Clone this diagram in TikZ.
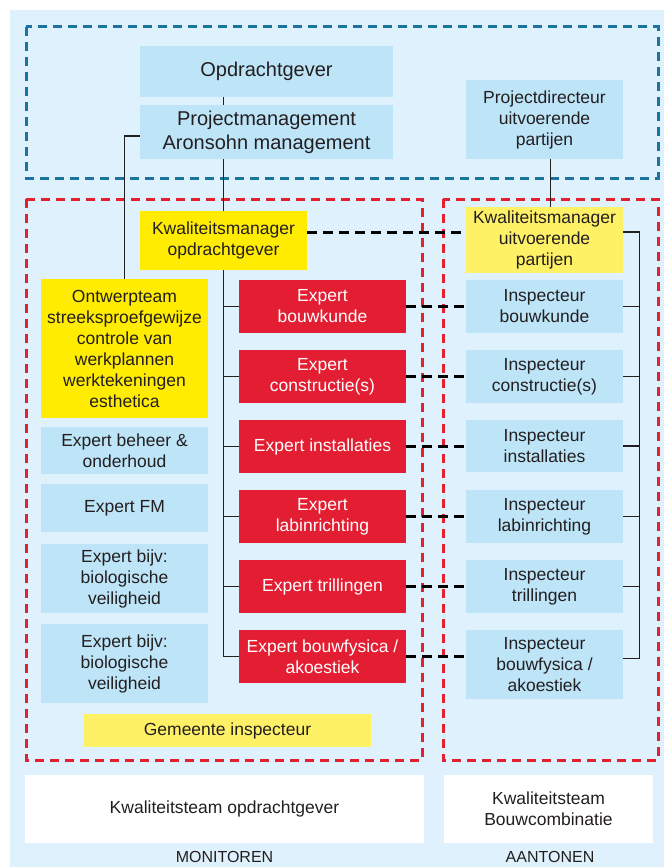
\documentclass[tikz,border=0pt]{standalone}
\usepackage{fontspec}
\setmainfont{Liberation Sans}
\usepackage{tikz}
\usetikzlibrary{calc}

\definecolor{achter}{HTML}{DFF1FC}
\definecolor{lichtblauw}{HTML}{BEE4F8}
\definecolor{geel}{HTML}{FFEC00}
\definecolor{lichtgeel}{HTML}{FFF166}
\definecolor{rood}{HTML}{E41E32}
\definecolor{streepblauw}{HTML}{1B74A0}
\definecolor{streeprood}{HTML}{E4202F}
\definecolor{tekst}{HTML}{231F20}

\tikzset{
	blok/.style={inner sep=0pt, align=center, text=tekst, font=\fontsize{17.5}{21}\selectfont},
	blauwblok/.style={blok, fill=lichtblauw},
	geelblok/.style={blok, fill=geel},
	lichtgeelblok/.style={blok, fill=lichtgeel},
	witblok/.style={blok, fill=white},
	expert/.style={blok, fill=rood, text=white, minimum width=167, minimum height=53},
	inspecteur/.style={blauwblok, minimum width=157, minimum height=53},
	kader/.style={line width=3pt, dash pattern=on 9pt off 6pt},
	lijn/.style={line width=1.4pt, draw=tekst},
	stippel/.style={line width=3pt, dash pattern=on 10pt off 6pt, draw=black}
}

\begin{document}
\begin{tikzpicture}[x=1pt, y=-1pt]
			%%%%% START %%%%%
			
			\fill[white] (0, 0) rectangle (664, 867);
			\fill[achter] (10, 10) rectangle (664, 867);
			
			\draw[kader, streepblauw] (26, 27) rectangle (658, 178);
			\draw[kader, streeprood] (26, 199) rectangle (422, 760);
			\draw[kader, streeprood] (443, 199) rectangle (658, 760);
			
			% opdrachtgever
			\node[blauwblok, font=\fontsize{20}{24}\selectfont, minimum width=253, minimum height=51] (og) at (266.5, 71.5) {Opdrachtgever};
			\node[blauwblok, font=\fontsize{20}{24}\selectfont, minimum width=253, minimum height=54] (pm) at (266.5, 132) {Projectmanagement\\Aronsohn management};
			\node[blauwblok, minimum width=157, minimum height=79] (pd) at (544.5, 119.5) {Projectdirecteur\\uitvoerende\\partijen};
			
			\node[geelblok, minimum width=167, minimum height=59] (kmo) at (223.5, 240.5) {Kwaliteitsmanager\\opdrachtgever};
			\node[lichtgeelblok, minimum width=157, minimum height=66] (kmu) at (544.5, 240) {Kwaliteitsmanager\\uitvoerende\\partijen};
			
			% linker kolom
			\node[geelblok, minimum width=167, minimum height=139] (ow) at (124.5, 348.5) {Ontwerpteam\\streeksproefgewijze\\controle van\\werkplannen\\werktekeningen\\esthetica};
			\node[blauwblok, minimum width=167, minimum height=47] (eb) at (124.5, 450.5) {Expert beheer \&\\onderhoud};
			\node[blauwblok, minimum width=167, minimum height=48] (efm) at (124.5, 508) {Expert FM};
			\node[blauwblok, minimum width=167, minimum height=69] (ebv) at (124.5, 578.5) {Expert bijv:\\biologische\\veiligheid};
			\node[blauwblok, minimum width=167, minimum height=79] (ebw) at (124.5, 663.5) {Expert bijv:\\biologische\\veiligheid};
			\node[lichtgeelblok, minimum width=287, minimum height=33] (gi) at (227.5, 730.5) {Gemeente inspecteur};
			
			% experts
			\node[expert] (e1) at (322.5, 306.5) {Expert\\bouwkunde};
			\node[expert] (e2) at (322.5, 376.5) {Expert\\constructie(s)};
			\node[expert] (e3) at (322.5, 446.5) {Expert installaties};
			\node[expert] (e4) at (322.5, 516.5) {Expert\\labinrichting};
			\node[expert] (e5) at (322.5, 586.5) {Expert trillingen};
			\node[expert] (e6) at (322.5, 656.5) {Expert bouwfysica /\\akoestiek};
			
			% inspecteurs
			\node[inspecteur] (i1) at (544.5, 306.5) {Inspecteur\\bouwkunde};
			\node[inspecteur] (i2) at (544.5, 376.5) {Inspecteur\\constructie(s)};
			\node[inspecteur, minimum height=52] (i3) at (544.5, 446) {Inspecteur\\installaties};
			\node[inspecteur] (i4) at (544.5, 516.5) {Inspecteur\\labinrichting};
			\node[inspecteur] (i5) at (544.5, 586.5) {Inspecteur\\trillingen};
			\node[inspecteur, minimum height=69] (i6) at (544.5, 664.5) {Inspecteur\\bouwfysica /\\akoestiek};
			
			% onderkant
			\node[witblok, minimum width=399, minimum height=68] (kto) at (224.5, 809) {Kwaliteitsteam opdrachtgever};
			\node[witblok, minimum width=209, minimum height=68] (ktb) at (548.5, 809) {Kwaliteitsteam\\Bouwcombinatie};
			\node[blok, font=\fontsize{16}{19}\selectfont] (mon) at (224.5, 857) {MONITOREN};
			\node[blok, font=\fontsize{16}{19}\selectfont] (aan) at (550, 857) {AANTONEN};
			
			% lijnen
			\draw[lijn] (kmo.north |- og.south) -- (kmo.north |- pm.north);
			\draw[lijn] (kmo.north |- pm.south) -- (kmo.north);
			\draw[lijn] (kmo.south) -- (kmo.south |- e6.west);
			\foreach \n in {e1,e2,e3,e4,e5,e6}
				\draw[lijn] (kmo.south |- \n.west) -- (\n.west);
			\draw[lijn] ([yshift=-4]pm.west) -| (ow.north);
			\draw[lijn] ([xshift=6]pd.south) -- ([xshift=6]pd.south |- kmu.north);
			\draw[lijn] ([yshift=8]kmu.east) -- ++(16, 0) |- ([yshift=6]i6.east);
			\foreach \n in {i1,i2,i3,i4,i5}
				\draw[lijn] (\n.east) -- ++(16, 0);
			
			\draw[stippel] ([yshift=8.5]kmo.east) -- ([yshift=8.5]kmo.east -| kmu.west);
			\foreach \k in {1,...,6}
				\draw[stippel] (e\k.east) -- (e\k.east -| i\k.west);
			
			%%%%% END %%%%%
\end{tikzpicture}
\end{document}
